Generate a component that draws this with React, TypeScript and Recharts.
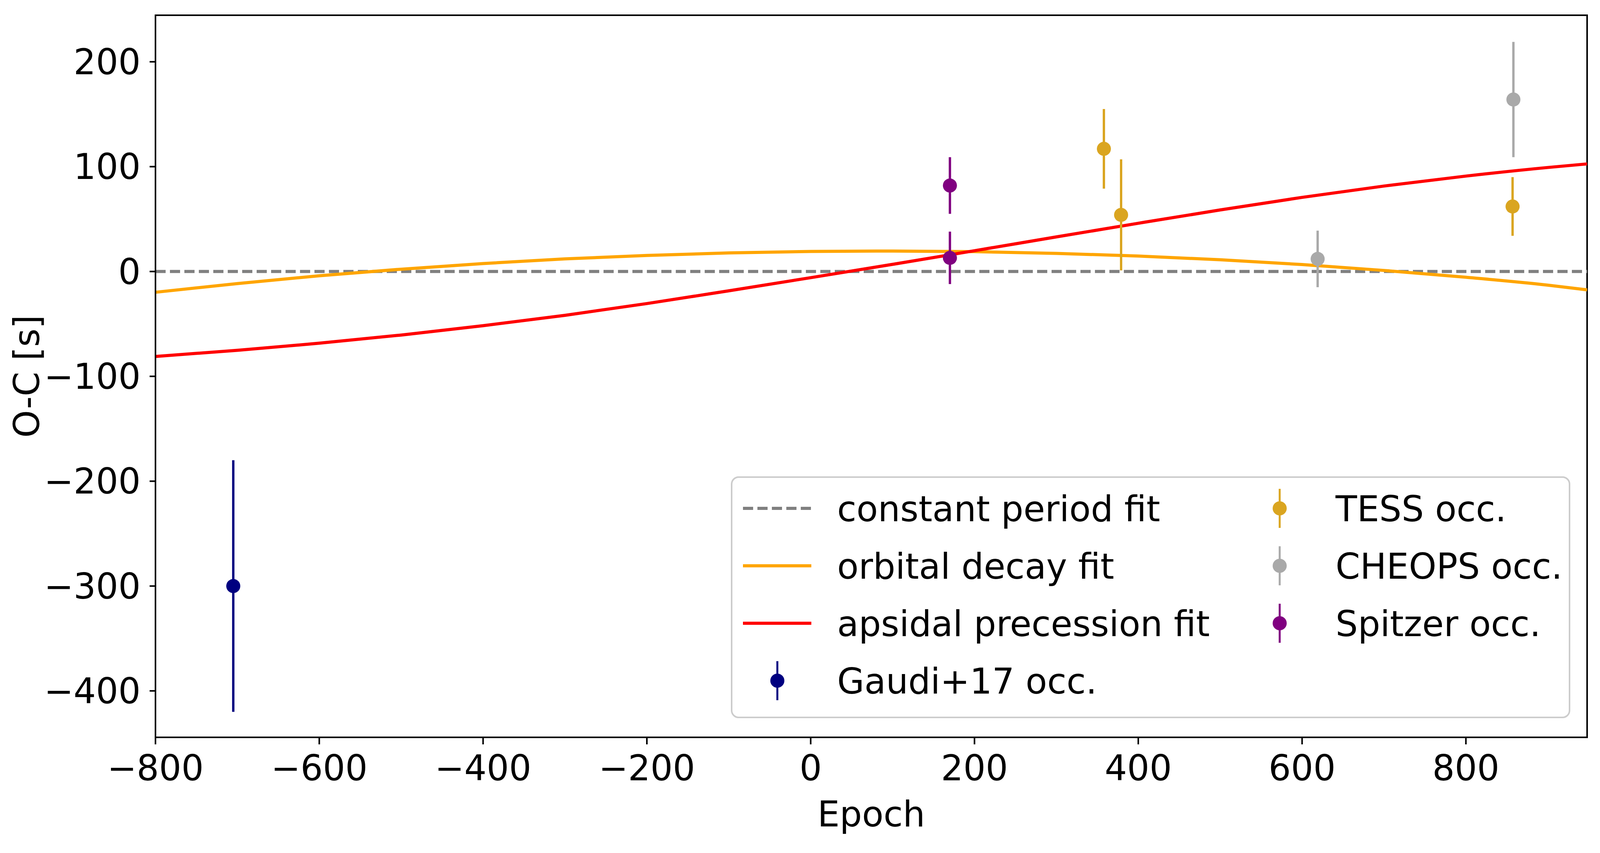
import React from 'react';
import { ComposedChart, Line, Scatter, ErrorBar, XAxis, YAxis, Label, Legend, ReferenceArea } from 'recharts';

// fit curves, sampled off the plot
const epochs = [-800, -700, -600, -500, -400, -300, -200, -100, 0, 100, 200, 300, 400, 500, 600, 700, 800, 900, 948];
const constantFit = [0, 0, 0, 0, 0, 0, 0, 0, 0, 0, 0, 0, 0, 0, 0, 0, 0, 0, 0];
const decayFit = [-19.8, -11.5, -4.1, 2.2, 7.6, 12.0, 15.3, 17.7, 19.1, 19.5, 18.9, 17.3, 14.7, 11.2, 6.6, 1.0, -5.5, -13.0, -17.5];
const apsidalFit = [-81, -75.2, -68.4, -60.6, -51.7, -41.8, -30.6, -18.4, -5.9, 6.8, 19.8, 33, 46, 58.7, 70.7, 81.5, 91, 99.2, 102.6];

// occultation timings: epoch, O-C [s], 1-sigma error
const gaudiEpoch = [-705];
const gaudiOC = [-300];
const gaudiErr = [120];
const tessEpoch = [358, 379, 857];
const tessOC = [117, 54, 62];
const tessErr = [38, 53, 28];
const cheopsEpoch = [619, 858];
const cheopsOC = [12, 164];
const cheopsErr = [27, 55];
const spitzerEpoch = [170, 170];
const spitzerOC = [82, 13];
const spitzerErr = [27, 25];

const xTicks = [-800, -600, -400, -200, 0, 200, 400, 600, 800];
const yTicks = [-400, -300, -200, -100, 0, 100, 200];
const xDomain = [-800, 948];
const yDomain = [-444.3, 244.4];

// the browser viewport is 4096 wide, so the figure is laid out at 4096x2183
const W = 4096;
const H = 2183;
const FONT = '"DejaVu Sans", sans-serif';
const FS = 90;
const C = {
  constant: '#808080',
  decay: '#FFA500',
  apsidal: '#FF0000',
  gaudi: '#000080',
  tess: '#DAA520',
  cheops: '#A9A9A9',
  spitzer: '#800080',
};

const fitRows = epochs.map((x, i) => ({ x, constant: constantFit[i], decay: decayFit[i], apsidal: apsidalFit[i] }));
const toRows = (xs: number[], ys: number[], es: number[]) => xs.map((x, i) => ({ x, y: ys[i], err: es[i] }));
const gaudiRows = toRows(gaudiEpoch, gaudiOC, gaudiErr);
const tessRows = toRows(tessEpoch, tessOC, tessErr);
const cheopsRows = toRows(cheopsEpoch, cheopsOC, cheopsErr);
const spitzerRows = toRows(spitzerEpoch, spitzerOC, spitzerErr);

const fmt = (v: number) => (v < 0 ? `\u2212${Math.abs(v)}` : `${v}`);
const tickStyle = { fontSize: FS, fontFamily: FONT, fill: '#000' };
const axisLine = { stroke: '#000', strokeWidth: 4 };

const dot = (color: string) => (p: any) => <circle cx={p.cx} cy={p.cy} r={18} fill={color} />;

const YLabel = ({ viewBox }: any) => {
  const cx = 100;
  const cy = viewBox.y + viewBox.height / 2;
  return (
    <text x={cx} y={cy} transform={`rotate(-90 ${cx} ${cy})`} textAnchor="middle" fontSize={FS} fontFamily={FONT} fill="#000">
      O-C [s]
    </text>
  );
};

const lineItems = [
  { label: 'constant period fit', color: C.constant, dash: '26 11' },
  { label: 'orbital decay fit', color: C.decay },
  { label: 'apsidal precession fit', color: C.apsidal },
];
const pointItemsLeft = [{ label: 'Gaudi+17 occ.', color: C.gaudi }];
const pointItemsRight = [
  { label: 'TESS occ.', color: C.tess },
  { label: 'CHEOPS occ.', color: C.cheops },
  { label: 'Spitzer occ.', color: C.spitzer },
];

const LEG_W = 2149;
const LEG_H = 619;
const ROW0 = 82;
const ROW_STEP = 147;
const TXT_DY = 33;

const ErrHandle = ({ x, y, color }: { x: number; y: number; color: string }) => (
  <g>
    <line x1={x} x2={x} y1={y - 50} y2={y + 50} stroke={color} strokeWidth={5} />
    <circle cx={x} cy={y} r={18} fill={color} />
  </g>
);

const LegendBox = () => (
  <svg width={LEG_W} height={LEG_H} style={{ display: 'block' }}>
    <rect x={2} y={2} width={LEG_W - 4} height={LEG_H - 4} rx={18} fill="#fff" fillOpacity={0.8} stroke="#cccccc" strokeWidth={4} />
    {lineItems.map((it, i) => {
      const y = ROW0 + i * ROW_STEP;
      return (
        <g key={it.label}>
          <line x1={31} x2={206} y1={y} y2={y} stroke={it.color} strokeWidth={8} strokeDasharray={it.dash} />
          <text x={272} y={y + TXT_DY} fontSize={FS} fontFamily={FONT} fill="#000">{it.label}</text>
        </g>
      );
    })}
    {pointItemsLeft.map((it, i) => {
      const y = ROW0 + (3 + i) * ROW_STEP;
      return (
        <g key={it.label}>
          <ErrHandle x={119} y={y} color={it.color} />
          <text x={272} y={y + TXT_DY} fontSize={FS} fontFamily={FONT} fill="#000">{it.label}</text>
        </g>
      );
    })}
    {pointItemsRight.map((it, i) => {
      const y = ROW0 + i * ROW_STEP;
      return (
        <g key={it.label}>
          <ErrHandle x={1405} y={y} color={it.color} />
          <text x={1548} y={y + TXT_DY} fontSize={FS} fontFamily={FONT} fill="#000">{it.label}</text>
        </g>
      );
    })}
  </svg>
);

const App: React.FC = () => (
  <div style={{ position: 'fixed', left: 0, top: 0, width: W, height: H, background: '#fff' }}>
    <ComposedChart width={W} height={H} data={fitRows} margin={{ top: 39, right: 33, left: 0, bottom: 0 }}>
      <XAxis
        dataKey="x"
        type="number"
        domain={xDomain}
        allowDataOverflow
        ticks={xTicks}
        tickFormatter={fmt}
        tick={tickStyle}
        tickSize={18}
        tickMargin={28}
        tickLine={axisLine}
        axisLine={axisLine}
        height={296}
      >
        <Label value="Epoch" position="insideBottom" offset={68} fontSize={FS} fontFamily={FONT} fill="#000" />
      </XAxis>
      <YAxis
        dataKey="y"
        type="number"
        domain={yDomain}
        allowDataOverflow
        ticks={yTicks}
        tickFormatter={fmt}
        tick={tickStyle}
        tickSize={15}
        tickMargin={23}
        tickLine={axisLine}
        axisLine={axisLine}
        width={398}
      >
        <Label content={<YLabel />} />
      </YAxis>
      <Line dataKey="constant" stroke={C.constant} strokeWidth={8} strokeDasharray="26 11" dot={false} isAnimationActive={false} />
      <Line type="monotone" dataKey="decay" stroke={C.decay} strokeWidth={8} dot={false} isAnimationActive={false} />
      <Line type="monotone" dataKey="apsidal" stroke={C.apsidal} strokeWidth={8} dot={false} isAnimationActive={false} />
      <Scatter data={gaudiRows} dataKey="y" shape={dot(C.gaudi)} isAnimationActive={false}>
        <ErrorBar dataKey="err" direction="y" width={0} stroke={C.gaudi} strokeWidth={6} />
      </Scatter>
      <Scatter data={tessRows} dataKey="y" shape={dot(C.tess)} isAnimationActive={false}>
        <ErrorBar dataKey="err" direction="y" width={0} stroke={C.tess} strokeWidth={6} />
      </Scatter>
      <Scatter data={cheopsRows} dataKey="y" shape={dot(C.cheops)} isAnimationActive={false}>
        <ErrorBar dataKey="err" direction="y" width={0} stroke={C.cheops} strokeWidth={6} />
      </Scatter>
      <Scatter data={spitzerRows} dataKey="y" shape={dot(C.spitzer)} isAnimationActive={false}>
        <ErrorBar dataKey="err" direction="y" width={0} stroke={C.spitzer} strokeWidth={6} />
      </Scatter>
      {/* full axes frame (top and right spines) */}
      <ReferenceArea
        x1={xDomain[0]}
        x2={xDomain[1]}
        y1={yDomain[0]}
        y2={yDomain[1]}
        fill="none"
        fillOpacity={0}
        stroke="#000"
        strokeWidth={4}
        ifOverflow="visible"
      />
      <Legend
        layout="horizontal"
        verticalAlign="middle"
        align="center"
        content={<LegendBox />}
        wrapperStyle={{ left: 1871, top: 1219, width: LEG_W, height: LEG_H }}
      />
    </ComposedChart>
  </div>
);

export default App;
